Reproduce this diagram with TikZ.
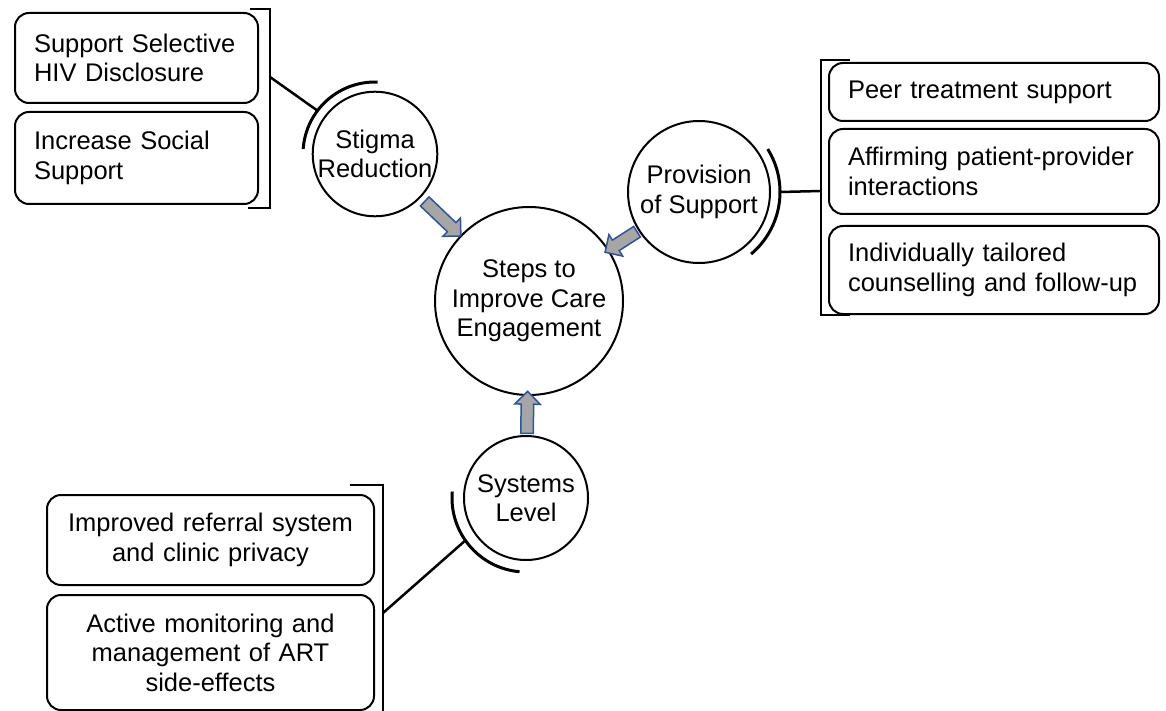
\documentclass[tikz,border=0pt]{standalone}
\usepackage{fontspec}
\setmainfont{Liberation Sans}
\usetikzlibrary{positioning,calc,shapes.arrows}
\definecolor{arrowfill}{RGB}{166,166,166}
\definecolor{arrowline}{RGB}{47,85,151}

\begin{document}
\begin{tikzpicture}[x=1pt, y=-1pt, font=\fontsize{25.5}{29.5}\selectfont,
  hub/.style={draw=black, circle, line width=2pt, inner sep=0pt, align=center, minimum size=#1},
  item/.style={draw=black, rounded corners=14pt, line width=2pt, align=left, text width=#1, inner xsep=19pt, inner ysep=0pt},
  citem/.style={item=#1, align=center},
  flowarrow/.style={single arrow, draw=arrowline, fill=arrowfill, line width=1.5pt, minimum width=24pt,
    single arrow head extend=6.5pt, inner xsep=0pt, inner ysep=5.5pt, minimum height=#1, sloped, allow upside down},
  bracket/.style={draw=black, line width=2pt},
  halo/.style={draw=black, line width=3pt},
  link/.style={draw=black, line width=2.5pt}]
  \useasboundingbox (0,0) rectangle (1166,711);

  \node[hub=188] (steps) at (529,301) {Steps to\\Improve Care\\Engagement};
  \node[hub=122] (stig) at (375,154) {Stigma\\Reduction};
  \node[hub=142] (prov) at (699,192) {Provision\\of Support};
  \node[hub=124] (sys) at (526,498) {Systems\\Level};

  \node[item=205pt, minimum height=90pt] (disclose) at (136.5,58) {Support Selective\\HIV Disclosure};
  \node[item=205pt, minimum height=92pt, below=7pt of disclose] (social) {Increase Social\\Support};

  \node[item=292pt, minimum height=58pt] (peer) at (994,92) {Peer treatment support};
  \node[item=292pt, minimum height=85pt, below=6pt of peer] (affirm) {Affirming patient-provider\\interactions};
  \node[item=292pt, minimum height=88pt, below=10pt of affirm] (tailor) {Individually tailored\\counselling and follow-up};

  \node[citem=289pt, minimum height=90pt] (referral) at (210.5,540) {Improved referral system\\and clinic privacy};
  \node[citem=289pt, minimum height=115pt, below=8pt of referral] (monitor) {Active monitoring and\\management of ART\\side-effects};

  \path (stig) -- node[flowarrow=50pt] (stigflow) {} (steps);
  \path (prov) -- node[flowarrow=38pt] (provflow) {} (steps);
  \path (sys) -- node[flowarrow=42pt] (sysflow) {} (steps);

  \draw[halo] ($(stig)+(184:72)$) arc[start angle=184, end angle=272, radius=72];
  \draw[halo] ($(prov)+(-32:81)$) arc[start angle=-32, end angle=50, radius=81];
  \draw[halo] ($(sys)+(95:74)$) arc[start angle=95, end angle=185, radius=74];

  \draw[bracket] (250,9) -- (270,9) -- (270,208) -- (248,208);
  \draw[bracket] (850,60) -- (821,60) -- (821,315) -- (850,315);
  \draw[bracket] (350,485) -- (383,485) -- (383,711);

  \coordinate (stigjoin) at (270,77);
  \coordinate (provjoin) at (821,191);
  \coordinate (sysjoin) at (383,613);
  \draw[link] (stigjoin) -- ($(stig)+(217:72)$);
  \draw[link] (provjoin) -- ($(prov)+(0:81)$);
  \draw[link] (sysjoin) -- ($(sys)+(145:74)$);
\end{tikzpicture}
\end{document}
